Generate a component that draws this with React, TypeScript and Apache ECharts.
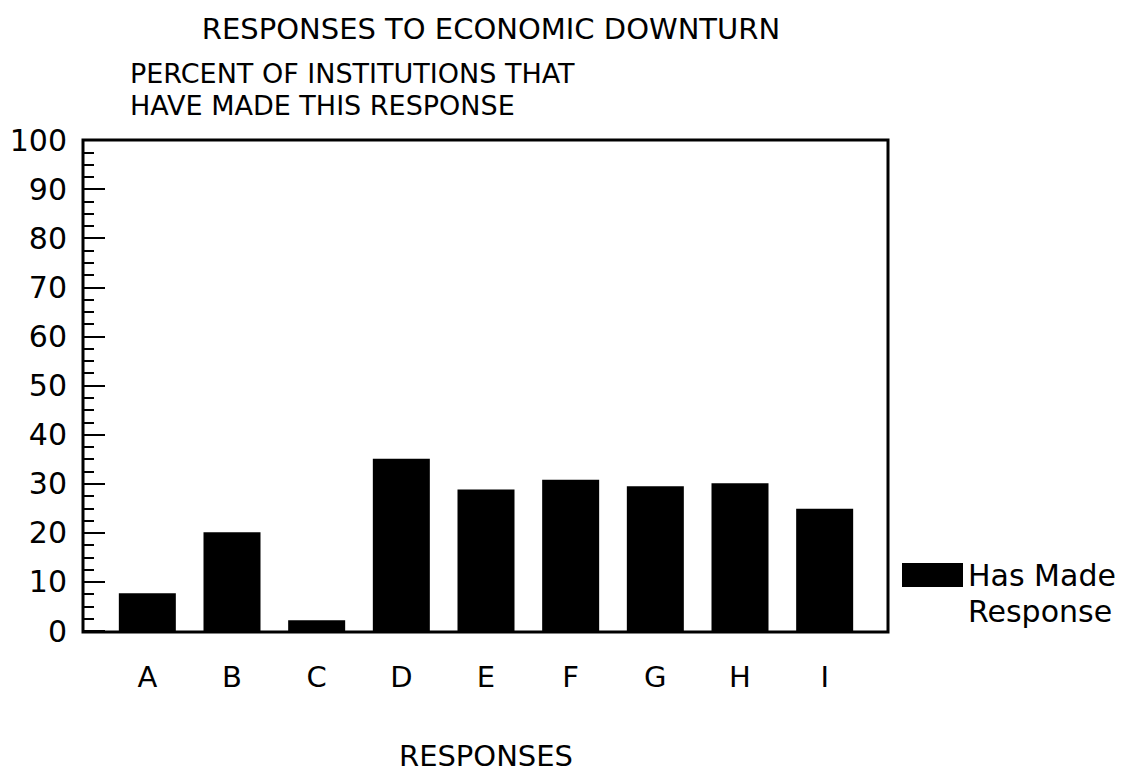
import React, { useEffect, useRef } from "react";
import * as echarts from "echarts";

const categories = ["A", "B", "C", "D", "E", "F", "G", "H", "I"];
const hasMadeResponse = [7.7, 20.1, 2.2, 35.1, 28.8, 30.8, 29.5, 30.1, 24.9];
const seriesName = "Has Made Response";
const titleText = "RESPONSES TO ECONOMIC DOWNTURN";
const yTitleLines = ["PERCENT OF INSTITUTIONS THAT", "HAVE MADE THIS RESPONSE"];
const xTitle = "RESPONSES";

const FONT = "'DejaVu Sans', sans-serif";

export default function App() {
  const ref = useRef<HTMLDivElement>(null);
  useEffect(() => {
    if (!ref.current) return;
    const chart = echarts.init(ref.current, undefined, { renderer: "svg" });
    const gridLeft = 105;
    const gridWidth = 762;
    const gridTop = 140;
    const gridHeight = 491;
    chart.setOption({
      animation: false,
      backgroundColor: "#ffffff",
      textStyle: { fontFamily: FONT, color: "#000" },
      title: {
        text: titleText,
        left: 486,
        top: 9,
        textAlign: "center",
        textStyle: { fontFamily: FONT, fontSize: 29, fontWeight: "normal", color: "#000" },
      },
      legend: {
        left: 897,
        top: 516,
        itemWidth: 61,
        itemHeight: 24,
        itemGap: 0,
        icon: "rect",
        formatter: () => " \nHas Made\nResponse",
        textStyle: {
          fontFamily: FONT,
          fontSize: 30,
          color: "#000",
          lineHeight: 36,
        },
        data: [seriesName],
      },
      grid: { left: gridLeft, top: gridTop, width: gridWidth, height: gridHeight },
      xAxis: {
        type: "category",
        data: categories,
        axisLine: { show: false },
        axisTick: { show: false },
        axisLabel: { fontFamily: FONT, fontSize: 29, color: "#000", margin: 31 },
        name: xTitle,
        nameLocation: "middle",
        nameGap: 110,
        nameTextStyle: { fontFamily: FONT, fontSize: 29, color: "#000" },
      },
      yAxis: {
        type: "value",
        min: 0,
        max: 100,
        interval: 10,
        offset: gridLeft - 83,
        axisLine: { show: false },
        axisTick: { show: true, inside: true, length: 22, lineStyle: { color: "#000", width: 2 } },
        minorTick: { show: true, splitNumber: 4, length: 11, lineStyle: { color: "#000", width: 2 } },
        splitLine: { show: false },
        axisLabel: { fontFamily: FONT, fontSize: 30, color: "#000", margin: 16, padding: [0, 0, 5, 0] },
      },
      graphic: [
        {
          type: "rect",
          shape: { x: 83, y: 140, width: 805, height: 492 },
          style: { fill: "none", stroke: "#000", lineWidth: 3 },
          z: 10,
        },
        {
          type: "text",
          left: 130,
          top: 57,
          style: {
            text: yTitleLines.join("\n"),
            font: `27px ${FONT}`,
            fill: "#000",
            lineHeight: 32,
          },
        },
      ],
      series: [
        {
          name: seriesName,
          type: "bar",
          data: hasMadeResponse,
          barWidth: 57,
          itemStyle: { color: "#000" },
        },
      ],
    });
    return () => chart.dispose();
  }, []);
  return (
    <div
      ref={ref}
      style={{ position: "fixed", left: 0, top: 0, width: 1141, height: 776, background: "#fff" }}
    />
  );
}
